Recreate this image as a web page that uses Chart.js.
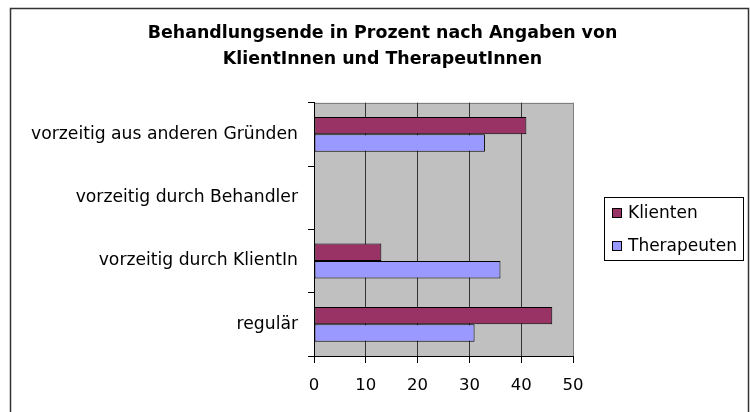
<!DOCTYPE html>
<html><head><meta charset="utf-8">
<script src="https://cdn.jsdelivr.net/npm/chart.js@4/dist/chart.umd.min.js"></script>
<style>html,body{margin:0;padding:0;background:#fff}</style>
</head><body>
<canvas id="c" width="750" height="412"></canvas>
<script>
const categories = ["vorzeitig aus anderen Gründen", "vorzeitig durch Behandler", "vorzeitig durch KlientIn", "regulär"];
const klienten = [41, 0, 13, 46];
const therapeuten = [33, 0, 36, 31];
const seriesNames = ["Klienten", "Therapeuten"];
const seriesColors = ["#993366", "#9999FF"];
const xTicks = [0, 10, 20, 30, 40, 50];
const titleLines = ["Behandlungsende in Prozent nach Angaben von", "KlientInnen und TherapeutInnen"];

const FONT = "'DejaVu Sans', 'Liberation Sans', Arial, sans-serif";
Chart.defaults.color = '#000';
Chart.defaults.font.family = FONT;

const framePlugin = {
  id: 'frame',
  beforeDraw(chart) {
    const ctx = chart.ctx, a = chart.chartArea;
    ctx.save();
    ctx.fillStyle = '#fff';
    ctx.fillRect(0, 0, chart.width, chart.height);
    ctx.strokeStyle = '#333';
    ctx.lineWidth = 1.5;
    ctx.strokeRect(10.5, 8.5, 738, 420);
    ctx.fillStyle = '#C0C0C0';
    ctx.fillRect(a.left, a.top, a.right - a.left, a.bottom - a.top);
    ctx.strokeStyle = '#808080';
    ctx.lineWidth = 1;
    ctx.beginPath();
    ctx.moveTo(a.left, Math.round(a.top) + 0.5);
    ctx.lineTo(a.right, Math.round(a.top) + 0.5);
    ctx.stroke();
    ctx.restore();
  },
  afterDraw(chart) {
    const ctx = chart.ctx;
    ctx.save();
    ctx.fillStyle = '#fff';
    ctx.fillRect(604, 197, 140, 64);
    ctx.strokeStyle = '#000';
    ctx.lineWidth = 1;
    ctx.strokeRect(604.5, 197.5, 139, 63);
    ctx.font = '17px ' + FONT;
    ctx.textBaseline = 'middle';
    ctx.textAlign = 'left';
    const ys = [213, 246];
    chart.data.datasets.forEach((ds, i) => {
      const y = ys[i];
      ctx.fillStyle = ds.backgroundColor;
      ctx.fillRect(612.5, y - 4.5, 9, 9);
      ctx.strokeStyle = '#000';
      ctx.strokeRect(612.5, y - 4.5, 9, 9);
      ctx.fillStyle = '#000';
      ctx.fillText(ds.label, 628, y + 1);
    });
    ctx.restore();
  }
};

new Chart(document.getElementById('c'), {
  type: 'bar',
  data: {
    labels: categories,
    datasets: [
      { label: seriesNames[0], data: klienten, backgroundColor: seriesColors[0], borderColor: '#000', borderWidth: 1, borderSkipped: false },
      { label: seriesNames[1], data: therapeuten, backgroundColor: seriesColors[1], borderColor: '#000', borderWidth: 1, borderSkipped: false }
    ]
  },
  options: {
    indexAxis: 'y',
    responsive: false,
    animation: false,
    events: [],
    datasets: { bar: { categoryPercentage: 0.55, barPercentage: 1.0 } },
    layout: { padding: { left: 15, top: 0, right: 0, bottom: 0 } },
    plugins: {
      legend: { display: false },
      tooltip: { enabled: false },
      title: {
        display: true,
        text: titleLines,
        color: '#000',
        font: { family: FONT, size: 17.4, weight: 'bold', lineHeight: 26 / 17.4 },
        padding: { top: 20, bottom: 30.7 }
      }
    },
    scales: {
      x: {
        min: 0, max: 50,
        afterBuildTicks: (s) => { s.ticks = xTicks.map(v => ({ value: v })); },
        afterFit: (s) => { s.height = 56; },
        grid: {
          drawOnChartArea: true,
          color: (c) => (c.tick && c.tick.value === 50) ? '#808080' : '#333333',
          tickColor: '#000',
          tickLength: 7,
          lineWidth: 1
        },
        border: { color: '#000', width: 1 },
        ticks: { font: { family: FONT, size: 16.5 }, color: '#000', padding: 13, maxRotation: 0 }
      },
      y: {
        afterFit: (s) => { s.width = 299; },
        grid: {
          offset: true,
          drawOnChartArea: false,
          tickColor: '#000',
          tickLength: 6
        },
        border: { color: '#000', width: 1 },
        ticks: { font: { family: FONT, size: 17.2 }, color: '#000', padding: 10 }
      },
      legendSpace: {
        type: 'category',
        position: 'right',
        display: true,
        afterFit: (s) => { s.width = 177; },
        grid: { display: false, drawTicks: false },
        border: { display: false },
        ticks: { display: false }
      }
    }
  },
  plugins: [framePlugin]
});
</script>
</body></html>
